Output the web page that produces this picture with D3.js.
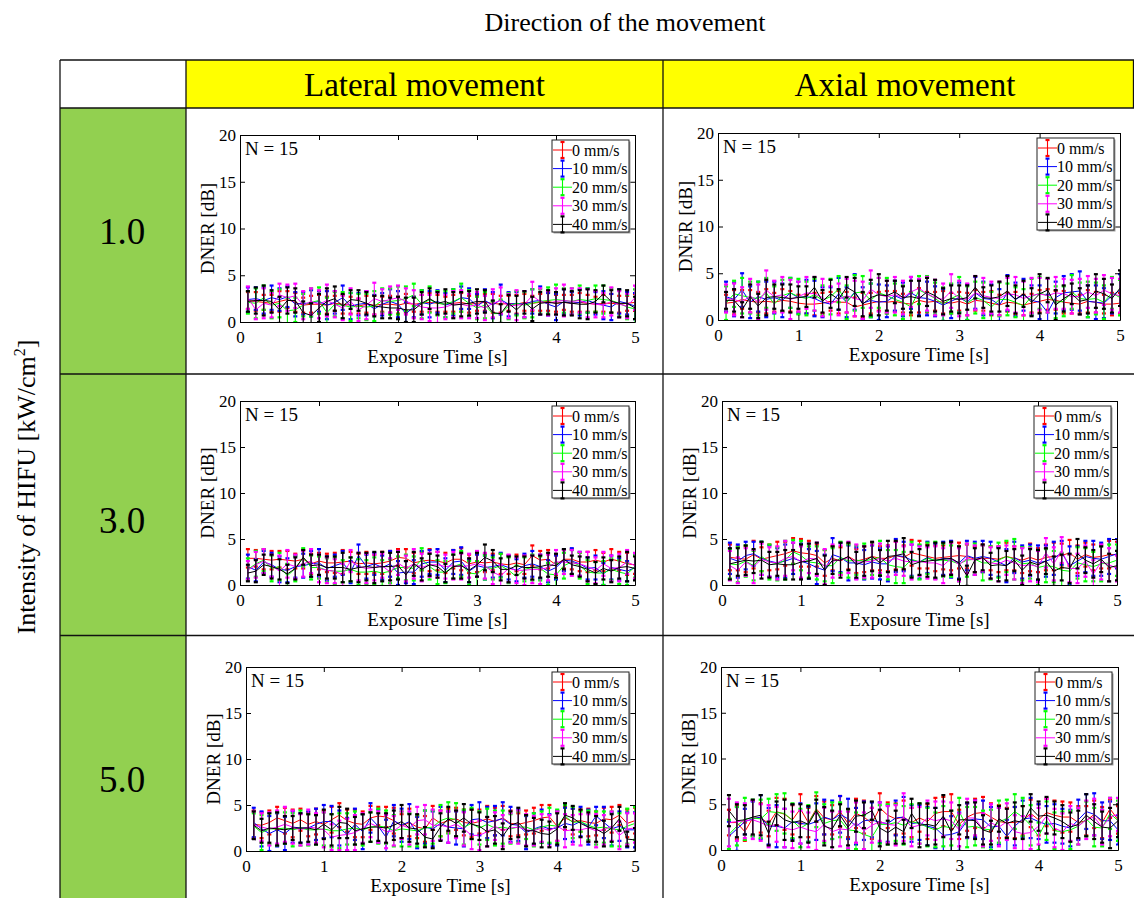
<!DOCTYPE html>
<html>
<head>
<meta charset="utf-8">
<script src="https://cdn.jsdelivr.net/npm/d3@7"></script>
<style>
  body { margin: 0; background: #fff; }
  svg { display: block; font-family: "Liberation Serif", "Times New Roman", serif; }
</style>
</head>
<body>
<svg id="fig" width="1134" height="898"></svg>
<script>
// ---- data (mean and half-width of error bar in dB) ----
const times = [0.1,0.2,0.3,0.4,0.5,0.6,0.7,0.8,0.9,1.0,
               1.1,1.2,1.3,1.4,1.5,1.6,1.7,1.8,1.9,2.0,
               2.1,2.2,2.3,2.4,2.5,2.6,2.7,2.8,2.9,3.0,
               3.1,3.2,3.3,3.4,3.5,3.6,3.7,3.8,3.9,4.0,
               4.1,4.2,4.3,4.4,4.5,4.6,4.7,4.8,4.9,5.0];
const speeds = ["0 mm/s", "10 mm/s", "20 mm/s", "30 mm/s", "40 mm/s"];
const colors = ["#ff0000", "#0000ff", "#00ff00", "#ff00ff", "#000000"];
const xTicks = [0, 1, 2, 3, 4, 5];
const yTicks = [0, 5, 10, 15, 20];
const directions = ["Lateral movement", "Axial movement"];
const intensities = ["1.0", "3.0", "5.0"];

// intensity 1.0, lateral
const lat1Mean = [
  [2.3,2.2,2.1,2.0,2.2,2.4,2.1,1.8,1.9,1.9, 1.8,2.0,1.9,1.8,1.7,1.9,1.8,1.9,1.9,1.8, 2.0,1.9,2.0,2.1,2.0,1.9,2.0,2.1,1.9,2.0, 2.1,2.0,1.9,2.0,1.9,2.1,2.0,2.1,2.2,2.0, 2.1,2.0,2.1,2.0,1.9,2.0,2.0,1.9,2.0,2.1],
  [2.4,2.5,2.3,2.6,2.4,2.7,1.9,2.0,2.0,2.2, 1.8,2.1,2.6,1.7,1.9,2.0,1.4,1.9,2.2,1.9, 0.9,1.6,2.1,1.9,2.2,1.8,2.1,2.6,2.5,1.7, 2.3,1.8,2.4,1.9,2.0,1.9,2.2,2.3,1.9,1.6, 2.2,2.0,2.1,2.3,2.0,1.8,1.6,2.2,2.0,1.7],
  [2.1,2.0,2.6,1.8,2.0,1.2,1.3,1.8,2.1,2.3, 1.0,1.9,1.8,1.6,1.7,1.6,1.7,2.3,2.2,2.3, 2.5,2.9,1.9,2.4,2.0,1.9,2.2,2.6,2.0,1.5, 1.8,0.9,0.9,1.7,2.0,1.8,2.0,2.2,2.3,2.4, 2.3,2.2,2.4,2.3,2.5,2.4,2.3,2.0,1.6,1.4],
  [2.6,1.3,2.0,1.8,2.9,2.6,2.8,1.8,2.2,1.9, 2.3,1.9,1.5,2.2,1.3,1.8,2.5,2.2,2.4,2.6, 2.2,1.9,1.6,1.5,1.5,1.6,1.9,1.9,1.7,1.8, 1.5,2.0,2.3,1.7,1.8,1.9,2.8,2.2,2.0,2.2, 2.3,2.2,2.3,2.0,1.9,1.8,2.2,1.9,1.7,2.6],
  [2.2,2.3,2.3,2.2,1.3,2.3,2.3,1.0,0.7,1.5, 2.2,2.5,1.7,2.4,2.3,2.0,1.7,1.6,1.5,1.5, 1.3,1.3,2.0,2.5,2.0,2.2,1.8,1.9,2.0,2.2, 2.2,1.0,0.9,2.0,1.3,2.1,1.4,2.0,2.1,2.0, 2.1,2.0,1.9,1.9,2.2,3.0,2.2,2.0,2.0,1.5]
];
const lat1Err = [
  [0.9,1.0,0.8,0.9,1.1,0.9,1.0,0.8,0.9,1.0, 0.9,0.8,1.0,0.9,0.8,0.9,1.0,0.8,0.9,0.9, 1.0,0.8,0.9,1.0,0.9,0.8,0.9,1.0,0.9,0.8, 0.9,1.0,0.9,0.8,1.0,0.9,0.8,0.9,1.0,0.9, 0.8,0.9,1.0,0.9,0.8,0.9,1.0,0.9,0.8,0.9],
  [1.3,1.2,1.4,1.3,1.2,1.1,1.3,1.2,1.4,1.1, 1.5,1.2,1.3,1.4,1.2,1.3,1.5,1.2,1.3,1.4, 1.2,1.1,1.3,1.4,1.2,1.3,1.4,1.2,1.1,1.3, 1.2,1.4,1.6,1.3,1.2,1.4,1.3,1.5,1.2,1.4, 1.3,1.2,1.4,1.3,1.2,1.5,1.4,1.3,1.2,1.4],
  [1.2,1.6,1.3,1.4,1.5,1.4,1.3,1.2,1.5,1.4, 1.6,1.3,1.4,1.5,1.3,1.4,1.6,1.3,1.4,1.5, 1.3,1.2,1.5,1.4,1.3,1.4,1.3,1.5,1.4,1.2, 1.4,1.3,1.5,1.4,1.3,1.4,1.5,1.3,1.4,1.6, 1.3,1.4,1.5,1.3,1.4,1.5,1.3,1.4,1.3,2.1],
  [1.2,1.0,1.6,1.3,1.2,1.4,1.3,1.5,1.4,1.5, 1.7,1.4,1.3,1.4,1.2,1.5,1.7,1.3,1.4,1.3, 1.4,1.5,1.3,1.4,1.6,1.3,1.4,1.5,1.3,1.4, 1.3,1.5,1.4,1.3,1.6,1.4,1.5,1.4,1.3,1.4, 1.7,1.4,1.3,1.5,1.4,1.3,1.5,1.4,1.3,1.3],
  [1.1,1.4,1.6,1.2,1.4,1.4,1.3,1.2,1.3,1.5, 1.4,1.3,1.3,1.0,1.1,1.2,1.1,1.2,1.1,1.2, 1.3,1.3,1.2,1.1,1.2,1.3,1.4,1.3,1.3,1.3, 1.2,1.3,1.0,0.9,1.5,1.2,1.3,1.2,1.3,1.2, 1.4,1.3,1.5,1.6,1.2,0.9,1.2,1.5,1.4,1.2]
];

// intensity 1.0, axial
const ax1Mean = [
  [1.8,1.9,2.2,2.0,1.9,2.0,1.9,2.1,2.0,1.8, 1.7,1.7,1.8,2.0,1.9,1.9,1.4,1.6,1.8,2.0, 1.9,2.0,1.8,1.7,2.1,1.9,2.0,1.9,1.8,2.0, 1.7,2.1,2.0,1.8,1.6,1.9,1.8,1.6,1.8,2.0, 2.2,2.1,1.9,1.8,1.7,2.0,1.9,1.7,1.7,1.8],
  [2.5,2.2,3.2,1.9,2.5,2.2,2.4,2.1,2.9,2.4, 2.5,2.3,1.9,1.7,2.8,1.9,3.0,1.8,2.1,1.9, 2.0,2.6,2.2,2.9,2.4,2.3,2.0,1.6,2.0,2.4, 1.9,2.9,2.3,2.2,1.6,2.9,2.2,2.7,2.1,1.9, 0.8,2.4,2.9,3.0,3.1,2.0,1.9,1.8,2.6,3.2],
  [1.8,2.8,2.6,2.4,2.3,2.9,1.7,2.6,2.9,2.5, 2.3,2.7,2.1,2.5,3.3,1.9,2.9,3.0,2.1,2.9, 2.6,2.2,1.9,1.4,3.2,2.8,2.3,1.7,2.3,2.7, 1.8,2.4,2.1,1.4,2.2,2.2,1.9,1.5,2.5,2.9, 2.6,1.9,2.0,3.0,2.3,2.2,2.3,1.9,2.9,2.4],
  [2.3,2.2,1.9,2.6,1.9,3.2,2.5,2.7,2.2,2.5, 2.9,2.8,2.4,1.7,2.2,2.6,2.3,2.1,3.3,2.7, 2.5,2.7,2.4,3.0,3.4,2.8,2.4,2.2,3.1,2.3, 2.2,2.9,2.6,2.4,2.3,2.8,2.7,2.3,2.6,2.8, 2.6,2.9,2.8,2.5,2.5,3.0,2.6,3.2,2.8,2.6],
  [2.1,2.1,1.1,2.5,1.5,2.4,2.5,2.4,2.3,2.4, 2.5,3.5,2.0,2.8,2.2,3.5,3.0,1.7,2.4,2.7, 2.6,3.0,2.4,2.5,2.3,3.0,2.6,2.0,2.3,2.2, 2.4,3.5,2.4,2.3,2.5,3.1,2.2,2.8,1.9,2.8, 3.2,1.6,2.3,2.8,2.0,2.2,3.1,2.8,2.3,3.4]
];
const ax1Err = [
  [0.9,1.3,1.0,1.2,1.1,1.3,1.0,1.2,1.1,0.9, 1.0,1.2,1.1,1.0,1.2,1.1,1.0,1.3,1.1,1.0, 1.2,1.1,1.0,1.2,1.3,1.1,1.0,1.2,1.1,1.0, 1.2,1.1,1.0,1.3,1.1,1.0,1.2,1.1,1.0,1.2, 1.1,1.0,1.2,1.1,1.0,1.2,1.1,1.0,1.2,1.1],
  [1.6,1.8,1.8,1.7,1.6,1.9,1.7,1.8,1.6,1.7, 1.8,1.9,1.6,1.8,1.7,1.6,1.9,1.7,1.8,1.9, 1.7,1.6,1.8,1.7,1.9,1.8,1.6,1.7,1.8,1.6, 1.9,1.7,1.8,1.6,1.7,1.9,1.8,1.7,1.6,1.8, 1.9,1.7,1.8,1.9,2.1,1.7,1.8,1.6,1.9,1.7],
  [1.8,1.4,1.9,1.7,1.8,1.6,1.9,1.7,1.6,1.9, 1.8,1.7,1.6,1.9,1.4,1.8,1.9,1.7,1.8,1.6, 1.9,1.7,1.8,1.6,1.5,1.9,1.7,1.8,1.6,1.9, 1.8,1.7,1.9,1.6,1.8,1.7,1.6,1.8,1.9,1.7, 1.8,1.7,1.6,1.8,1.7,1.9,1.7,1.8,1.7,1.9],
  [1.5,1.7,1.6,1.8,1.9,2.1,1.7,1.9,2.1,1.6, 1.7,1.8,2.0,1.9,1.7,1.8,1.9,2.0,2.0,1.8, 1.7,1.9,1.8,1.6,1.0,1.8,1.9,1.7,1.8,1.9, 1.7,1.8,1.9,1.7,1.8,1.7,1.9,1.8,1.9,1.7, 1.8,1.7,1.6,1.8,1.9,1.7,1.8,1.6,1.7,1.8],
  [0.9,1.2,0.8,1.3,1.3,1.9,1.3,1.4,1.5,1.2, 1.1,1.1,1.2,1.5,1.1,1.1,1.5,1.3,1.9,2.2, 1.6,1.2,1.2,1.7,1.9,1.5,1.7,1.4,1.4,1.5, 1.3,1.2,1.1,1.4,1.6,1.6,1.5,1.4,1.5,2.1, 1.3,1.6,1.4,1.1,1.4,1.5,1.8,1.6,1.5,1.9]
];

// intensity 3.0, lateral
const lat3Mean = [
  [2.9,2.9,2.8,2.7,2.8,2.7,2.6,2.8,2.3,2.6, 2.4,2.4,2.5,2.6,2.3,2.4,2.3,2.4,2.6,3.0, 2.9,2.4,2.6,2.7,2.6,2.4,2.8,2.8,2.3,2.5, 2.4,2.5,2.3,2.2,2.4,2.2,3.2,2.7,2.8,2.2, 2.8,2.8,2.5,2.5,2.7,2.5,2.8,2.6,2.3,2.2],
  [2.0,1.6,2.5,2.2,1.7,1.6,2.0,2.1,2.3,2.4, 1.8,2.1,2.4,1.4,3.2,2.0,2.3,1.9,2.3,1.3, 1.4,1.4,2.3,2.5,2.5,1.6,2.5,2.6,1.5,2.1, 1.9,2.0,2.2,1.9,1.6,2.1,2.3,2.0,1.5,1.9, 2.7,2.6,2.3,1.8,1.9,1.2,1.9,1.7,1.5,1.9],
  [1.7,2.3,2.7,1.8,2.0,1.0,1.8,3.0,1.9,1.9, 1.6,1.5,1.5,1.7,1.4,1.4,1.5,1.3,1.5,1.9, 1.9,1.8,2.8,2.0,1.4,1.4,2.0,2.3,1.3,1.2, 1.9,1.8,2.1,1.6,0.9,1.7,1.9,1.8,1.2,1.1, 2.1,2.5,2.1,1.4,1.3,1.3,1.7,1.4,1.2,2.0],
  [1.6,2.2,2.6,2.1,1.5,2.3,2.0,2.3,2.6,1.8, 1.6,1.5,1.1,2.6,2.0,1.8,1.9,2.1,1.4,2.4, 1.8,2.3,1.9,2.2,2.2,2.0,2.1,2.0,2.1,2.3, 2.1,1.4,1.0,1.8,1.6,1.6,1.7,1.7,1.9,2.5, 2.5,2.4,2.3,2.0,1.6,2.3,1.8,1.9,2.5,2.1],
  [1.3,1.5,2.2,2.0,1.7,1.2,1.8,3.0,2.1,2.2, 1.9,1.9,1.9,1.7,1.9,2.0,1.9,2.0,2.0,2.1, 1.1,2.3,1.7,2.2,2.0,1.3,2.0,2.1,1.6,2.2, 3.0,2.6,1.7,1.7,2.1,1.9,1.9,2.0,2.2,2.1, 2.8,2.2,2.0,1.7,1.3,1.8,1.5,1.9,2.0,1.8]
];
const lat3Err = [
  [1.0,0.9,1.1,1.0,0.9,1.0,0.8,1.0,1.1,0.9, 1.0,1.1,1.3,1.0,1.1,1.2,1.0,1.2,1.1,0.9, 1.0,1.1,1.0,1.2,1.0,1.1,1.0,1.2,1.0,1.1, 1.0,0.9,1.1,1.0,0.9,1.0,1.1,1.0,1.0,1.1, 1.0,1.1,1.0,1.1,1.1,1.0,1.1,1.0,1.2,1.0],
  [1.3,1.2,1.2,1.3,1.4,1.3,1.2,1.3,1.4,1.5, 1.3,1.2,1.3,1.2,1.2,1.3,1.2,1.3,1.4,1.3, 1.2,1.3,1.4,1.3,1.4,1.3,1.3,1.5,1.2,1.2, 1.3,1.2,1.3,1.3,1.2,1.3,1.4,1.3,1.2,1.3, 1.2,1.4,1.3,1.2,1.3,1.2,1.3,1.2,1.1,1.3],
  [1.2,1.4,1.2,1.4,1.5,1.3,1.4,1.0,1.3,1.2, 1.3,1.4,1.2,1.3,1.4,1.3,1.5,1.4,1.3,1.2, 1.4,1.3,1.2,1.4,1.3,1.2,1.3,1.4,1.3,1.4, 1.3,1.2,1.3,1.4,1.2,1.3,1.4,1.3,1.2,1.3, 1.4,1.3,1.4,1.3,1.2,1.3,1.2,1.3,1.2,1.2],
  [1.0,1.4,1.3,1.2,1.7,1.5,1.3,1.4,1.3,1.5, 1.4,1.3,1.2,1.2,1.5,1.6,1.4,1.3,1.5,1.3, 1.4,1.6,1.5,1.3,1.4,1.3,1.5,1.4,1.3,1.4, 1.4,1.3,1.2,1.5,1.4,1.6,1.5,1.6,1.4,1.3, 1.3,1.4,1.3,1.6,1.4,1.3,1.4,1.5,1.3,1.4],
  [0.9,1.2,1.1,1.3,1.1,1.0,1.2,0.8,1.2,1.1, 1.2,1.2,1.6,1.3,1.6,1.5,1.7,1.6,1.5,1.5, 1.5,1.3,1.2,1.2,1.2,1.0,1.3,1.4,1.3,1.3, 1.4,1.2,1.2,1.4,1.0,1.2,1.3,1.2,1.3,1.3, 1.1,1.0,1.1,1.3,1.2,1.2,1.2,1.2,1.6,1.3]
];

// intensity 3.0, axial
const ax3Mean = [
  [3.0,2.9,2.8,3.3,2.8,3.0,3.2,3.4,3.7,3.5, 3.4,3.2,2.4,2.9,2.6,3.1,2.6,2.8,3.1,2.9, 2.9,3.2,3.0,3.5,3.3,3.1,2.9,3.0,3.1,3.2, 3.1,2.8,2.9,2.9,2.8,3.1,2.9,2.7,3.0,2.7, 3.0,3.1,3.2,3.5,2.8,3.3,3.0,3.1,3.3,3.3],
  [2.9,2.6,3.2,3.4,2.9,2.6,2.4,2.6,2.9,2.6, 2.3,1.9,1.6,3.3,3.0,2.4,2.4,2.2,2.5,2.3, 2.3,3.2,3.1,2.7,2.5,3.0,2.6,2.9,2.8,2.4, 3.2,2.9,3.1,2.9,2.5,2.1,3.0,2.5,2.7,2.4, 2.6,2.9,3.5,2.1,2.6,3.1,2.9,2.8,3.1,3.4],
  [2.3,2.2,2.6,2.1,3.1,2.5,2.3,2.7,3.6,3.2, 2.5,2.4,2.1,2.1,3.0,2.6,2.7,2.6,2.8,3.0, 2.2,2.0,1.9,2.8,2.5,2.9,2.7,2.7,2.6,2.3, 2.7,2.8,2.4,2.4,2.7,3.1,2.8,2.3,2.4,1.9, 2.1,2.0,1.6,1.5,2.4,2.2,2.0,2.3,2.4,2.7],
  [2.1,1.6,2.5,2.0,2.8,2.5,2.4,2.9,3.1,2.5, 2.9,2.8,2.0,2.6,2.7,3.0,2.5,2.5,2.6,2.9, 2.6,2.9,2.6,2.5,2.6,2.4,2.4,2.1,2.9,2.2, 2.9,2.7,2.9,2.4,2.3,2.7,2.4,2.1,2.2,2.0, 3.5,2.3,3.8,1.8,1.8,2.6,1.2,2.5,2.2,1.8],
  [2.3,2.5,2.7,2.6,2.7,2.2,2.3,2.2,2.2,2.5, 2.6,2.9,1.6,2.7,2.7,3.1,2.2,2.6,3.1,2.4, 3.1,3.2,3.4,2.2,2.5,2.6,2.7,2.8,2.9,2.4, 1.0,2.7,3.0,2.1,2.2,2.1,2.7,1.6,2.5,2.2, 2.6,1.5,1.9,1.8,3.4,2.7,2.3,2.8,1.9,2.1]
];
const ax3Err = [
  [1.4,1.3,1.4,1.5,1.3,1.4,1.5,1.3,1.4,1.5, 1.4,1.2,1.4,1.3,1.5,1.4,1.3,1.4,1.5,1.3, 1.4,1.5,1.3,1.4,1.5,1.3,1.4,1.3,1.5,1.4, 1.3,1.4,1.5,1.3,1.4,1.5,1.3,1.4,1.5,1.3, 1.4,1.5,1.3,1.4,1.5,1.3,1.4,1.3,1.5,1.4],
  [1.7,1.8,1.5,1.3,1.8,1.7,1.6,1.8,1.7,1.9, 1.6,1.8,1.7,1.8,1.6,1.9,1.7,1.6,1.8,1.7, 1.9,1.8,1.6,1.7,1.8,1.7,1.9,1.8,2.0,1.7, 1.6,1.8,1.7,1.8,1.6,1.8,1.7,1.8,1.7,1.9, 1.7,1.8,1.3,2.1,1.6,1.7,1.9,1.8,1.9,1.6],
  [1.6,1.9,1.7,1.6,1.6,1.9,1.8,2.1,1.3,1.6, 1.7,1.8,1.7,1.9,1.7,1.8,1.6,1.9,1.7,1.8, 1.6,1.8,1.7,1.9,1.9,1.7,2.0,1.8,1.7,1.9, 1.8,1.7,1.9,1.8,1.9,1.7,2.2,1.8,1.7,1.9, 1.8,1.7,1.9,1.8,1.7,1.8,1.6,1.9,2.0,1.7],
  [1.6,1.4,1.5,1.8,1.7,1.6,1.8,1.9,1.5,1.7, 1.6,1.8,1.9,1.8,1.6,1.7,1.9,1.7,1.8,1.6, 1.7,1.8,1.6,1.9,1.6,1.7,1.8,1.9,1.7,1.8, 1.6,1.6,1.4,1.7,1.9,1.6,1.8,1.9,1.8,1.7, 1.6,1.8,1.4,1.5,1.6,1.7,1.5,1.9,1.8,1.4],
  [1.7,1.5,1.6,1.3,2.0,1.4,1.3,1.6,1.6,1.9, 1.9,1.7,1.6,1.5,1.9,1.5,1.4,1.6,1.6,1.4, 1.7,1.6,1.7,1.4,1.4,1.7,1.9,1.8,1.8,1.8, 1.1,1.3,1.4,1.4,1.8,1.6,1.2,1.6,1.4,1.6, 1.4,1.6,1.4,1.6,1.6,1.4,1.5,1.4,1.5,1.6]
];

// intensity 5.0, lateral
const lat5Mean = [
  [2.9,2.8,3.1,3.6,3.3,3.0,3.4,2.9,3.2,2.9, 3.4,3.9,3.3,3.0,2.9,3.6,3.8,3.7,3.3,2.7, 3.1,2.6,2.4,3.6,3.0,3.3,3.5,3.1,3.0,3.2, 3.5,3.2,3.6,3.0,2.9,3.1,3.3,3.6,3.7,2.7, 3.6,3.2,3.3,3.1,3.0,3.5,3.4,3.9,3.0,3.3],
  [3.1,2.4,1.9,2.3,1.9,2.6,2.5,2.5,2.9,3.2, 3.2,2.5,1.8,2.9,2.1,3.6,2.7,1.5,3.3,2.8, 3.2,2.0,2.6,2.4,3.0,2.6,2.5,2.4,3.4,3.5, 3.1,3.3,3.5,2.9,2.8,2.0,2.4,2.7,2.4,2.5, 3.0,2.8,3.2,2.6,3.8,3.1,2.4,2.7,2.3,2.3],
  [2.7,2.0,2.4,2.4,2.5,2.3,2.5,2.3,2.3,2.4, 2.2,2.2,2.4,2.5,2.3,2.6,2.7,2.6,2.2,2.4, 2.3,2.2,2.5,2.6,3.3,3.6,3.4,2.6,3.0,2.5, 2.9,2.5,2.6,2.4,2.6,2.6,2.3,2.6,2.8,2.7, 3.8,3.1,3.2,2.8,2.5,2.6,2.4,2.3,2.7,3.0],
  [2.8,2.6,2.4,2.6,2.9,2.6,2.3,2.6,2.5,2.3, 1.5,1.7,1.8,2.0,2.5,3.0,2.6,2.1,2.2,2.8, 2.5,3.3,3.4,2.8,2.8,2.6,2.9,2.4,1.7,1.7, 2.1,2.7,2.2,2.5,2.6,2.3,2.2,2.5,2.2,2.7, 2.2,2.3,2.3,2.5,2.2,2.3,2.7,1.7,2.4,2.5],
  [2.8,2.2,2.5,2.4,2.3,2.5,2.5,2.5,2.3,2.9, 2.3,3.1,3.0,2.2,2.4,2.6,2.6,2.5,2.8,3.2, 2.5,2.4,1.5,1.3,2.6,3.5,3.0,3.6,2.9,2.7, 2.1,2.3,1.6,2.8,3.1,2.2,2.2,1.9,1.8,2.4, 3.9,3.6,3.0,2.6,2.4,1.9,2.5,3.5,1.3,1.2]
];
const lat5Err = [
  [1.5,1.4,1.3,1.2,1.4,1.5,1.2,1.3,1.4,1.5, 1.4,1.3,1.2,1.5,1.4,1.3,1.0,1.1,1.4,1.3, 1.5,1.2,1.4,1.3,1.4,1.3,1.2,1.4,1.5,1.3, 1.4,1.5,1.3,1.4,1.2,1.3,1.4,1.4,1.3,1.6, 1.3,1.4,1.2,1.5,1.3,1.2,1.4,1.1,1.5,1.4],
  [1.6,1.9,1.9,1.8,1.8,1.7,1.6,1.8,1.7,1.8, 1.7,1.9,1.8,1.7,1.9,1.6,1.8,1.9,1.7,1.8, 1.9,1.7,1.8,1.9,1.8,1.7,1.8,1.9,1.6,1.8, 1.7,1.6,1.8,1.9,1.7,1.8,1.7,1.8,1.6,1.9, 1.7,1.8,1.6,1.9,1.0,1.7,1.8,1.6,1.9,1.9],
  [1.4,1.9,1.7,1.8,1.7,1.8,1.9,1.7,1.6,1.8, 1.8,1.9,1.7,1.8,1.7,1.6,1.9,1.8,1.7,1.9, 1.8,1.7,1.9,1.8,1.7,1.7,1.8,1.9,1.7,1.8, 1.7,1.9,1.8,1.6,1.7,1.3,1.8,1.7,1.9,1.8, 1.2,1.7,1.1,1.6,1.8,1.7,1.9,1.8,1.9,1.8],
  [1.5,1.5,1.8,1.8,1.9,1.8,1.7,1.9,1.6,1.9, 1.4,1.6,1.7,1.9,1.6,1.5,1.7,1.8,1.6,1.5, 1.8,1.5,1.6,1.7,1.6,1.7,1.5,1.8,1.5,1.6, 1.6,1.5,1.7,1.6,1.8,1.7,1.6,1.5,1.7,1.6, 1.8,1.6,1.7,1.5,1.8,1.6,1.6,1.5,1.7,1.6],
  [1.5,1.3,1.6,1.8,1.5,1.3,1.6,1.5,1.6,1.6, 1.7,1.7,1.6,1.5,1.6,1.6,1.5,1.6,1.6,1.8, 1.5,1.6,1.1,1.0,1.5,1.3,1.4,1.5,1.6,1.5, 1.6,1.5,1.4,1.5,1.6,1.7,1.4,1.5,1.4,1.7, 1.3,1.3,1.5,1.6,1.4,1.4,1.5,1.3,0.8,1.3]
];

// intensity 5.0, axial
const ax5Mean = [
  [3.0,3.0,2.0,3.5,3.5,2.9,4.2,3.9,3.3,4.5, 3.0,4.5,3.5,3.3,4.2,2.9,4.0,3.6,2.9,4.6, 3.8,3.4,3.6,3.0,3.5,3.1,4.0,4.2,4.2,2.8, 3.6,4.0,4.1,3.6,3.1,3.0,3.0,3.2,4.0,3.3, 4.1,3.8,3.6,3.6,3.0,3.2,3.9,3.0,4.5,3.3],
  [1.5,2.3,3.1,3.4,3.6,2.6,2.6,2.4,3.1,2.9, 2.8,3.1,3.6,3.3,3.9,3.4,2.6,3.2,3.3,3.0, 2.9,3.5,3.6,2.9,3.0,2.6,2.4,1.6,1.7,2.0, 3.2,3.4,3.3,2.5,2.6,1.5,2.6,3.4,3.5,3.1, 2.8,2.9,2.6,2.4,3.3,4.2,3.9,3.2,3.2,2.2],
  [1.7,2.6,3.4,3.5,3.4,4.2,4.1,4.0,3.2,2.4, 2.9,4.4,2.9,3.2,3.3,2.2,2.1,1.7,1.4,2.8, 2.8,3.0,2.7,3.1,2.9,2.5,2.2,2.6,2.4,4.2, 2.5,2.6,2.3,2.2,3.1,3.4,4.2,3.6,2.7,1.5, 3.2,2.1,2.0,2.2,2.6,3.4,2.5,2.4,4.0,3.2],
  [3.0,3.1,3.2,3.3,3.0,2.6,2.8,2.4,2.2,2.5, 2.2,2.0,2.8,2.0,2.3,2.2,3.0,2.1,2.7,3.1, 2.8,2.7,3.6,2.5,2.7,3.5,3.2,3.4,3.2,2.2, 3.5,3.5,2.2,3.0,2.5,3.1,2.0,1.8,1.9,2.6, 3.7,2.4,2.0,2.9,2.6,3.3,3.6,2.5,3.6,3.9],
  [4.3,3.2,3.3,3.6,3.8,1.8,4.0,3.3,3.0,3.2, 2.8,4.3,2.6,2.3,3.8,2.5,3.7,3.8,4.3,2.4, 1.9,2.5,2.0,4.0,2.7,2.8,2.6,3.7,2.0,3.3, 3.3,3.2,2.2,1.9,3.4,2.9,3.2,3.0,4.6,3.7, 3.8,3.5,3.1,2.5,2.8,3.8,3.1,2.5,2.4,3.2]
];
const ax5Err = [
  [1.4,1.8,1.0,1.9,1.6,1.4,1.5,1.7,1.6,1.6, 1.6,1.4,1.8,1.6,1.7,1.5,1.6,1.8,1.7,1.6, 1.4,1.7,1.8,1.6,1.5,1.9,1.7,1.6,1.9,1.6, 1.5,1.6,1.7,1.5,1.8,1.6,1.7,1.6,1.5,1.7, 1.5,1.6,1.7,1.6,1.8,1.6,1.5,1.7,1.0,1.5],
  [1.6,2.4,1.4,1.9,2.4,2.0,2.3,2.1,1.9,2.2, 1.9,2.0,1.9,2.1,2.0,2.2,2.0,2.1,1.9,2.2, 2.0,1.9,2.2,2.0,1.9,2.1,2.2,1.8,2.0,2.1, 1.9,2.0,2.1,2.2,2.0,1.8,2.1,2.0,2.2,1.9, 2.0,2.1,1.9,2.0,2.2,1.9,2.3,2.0,2.1,1.6],
  [1.6,2.1,2.3,2.0,2.1,1.4,2.0,2.2,1.9,2.1, 2.0,1.9,2.1,2.0,1.9,2.2,2.0,2.1,1.9,2.1, 2.2,2.0,2.1,1.9,2.2,2.1,1.9,2.2,1.9,1.5, 2.2,2.1,2.0,2.2,2.3,2.1,1.9,2.1,2.2,1.5, 2.1,2.0,2.2,2.1,2.0,1.9,2.1,2.0,1.7,2.2],
  [2.6,2.1,1.9,2.1,2.0,2.3,1.9,2.1,2.0,1.8, 1.9,2.0,1.8,2.2,1.9,2.0,2.2,2.0,1.9,2.1, 2.0,2.2,2.6,2.1,2.0,1.9,2.1,1.9,2.0,1.8, 2.1,1.9,1.8,2.0,2.1,2.0,1.8,1.9,1.8,2.0, 1.9,2.1,2.0,1.9,2.0,2.1,2.0,1.9,2.1,1.8],
  [1.7,1.8,1.6,1.9,2.2,1.3,1.3,2.2,2.0,1.8, 2.0,1.2,2.1,2.0,1.2,2.0,1.7,1.4,1.0,2.0, 1.3,1.8,1.3,1.6,2.4,2.3,2.0,2.3,2.3,1.6, 1.9,2.0,1.6,1.3,1.4,1.6,2.0,1.8,1.5,1.6, 2.0,1.8,1.8,1.6,1.5,2.3,1.9,1.7,2.2,1.8]
];

// ---- layout ----
const svg = d3.select("#fig");
const W = 1134, H = 898;
const tableLeft = 60, colSplit = 186, midSplit = 663, tableRight = 1133.5;
const headTop = 60, headBottom = 108;
const rowLines = [374, 635.5];

const panels = [
  { mean: lat1Mean, err: lat1Err, x0: 240, x1: 635,  y0: 135, y1: 322 },
  { mean: ax1Mean,  err: ax1Err,  x0: 718, x1: 1120, y0: 133, y1: 320 },
  { mean: lat3Mean, err: lat3Err, x0: 240, x1: 635,  y0: 401, y1: 585 },
  { mean: ax3Mean,  err: ax3Err,  x0: 722, x1: 1117, y0: 401, y1: 585 },
  { mean: lat5Mean, err: lat5Err, x0: 246, x1: 635,  y0: 667, y1: 851 },
  { mean: ax5Mean,  err: ax5Err,  x0: 721, x1: 1118, y0: 667, y1: 850 }
];

// table background
svg.append("rect").attr("x", colSplit).attr("y", headTop)
  .attr("width", W - colSplit).attr("height", headBottom - headTop).attr("fill", "#ffff00");
svg.append("rect").attr("x", tableLeft).attr("y", headBottom)
  .attr("width", colSplit - tableLeft).attr("height", H - headBottom).attr("fill", "#92d050");

// table lines
const grid = svg.append("g").attr("stroke", "#111").attr("stroke-width", 1.3);
[headTop, headBottom, ...rowLines].forEach(yy => {
  grid.append("line").attr("x1", tableLeft).attr("x2", W).attr("y1", yy).attr("y2", yy);
});
[tableLeft, colSplit, midSplit].forEach(xx => {
  grid.append("line").attr("x1", xx).attr("x2", xx).attr("y1", headTop).attr("y2", H);
});
grid.append("line").attr("x1", tableRight).attr("x2", tableRight).attr("y1", headTop).attr("y2", headBottom);

// titles
svg.append("text").attr("x", 625).attr("y", 31).attr("text-anchor", "middle")
  .attr("font-size", 26).text("Direction of the movement");

const colCenters = [424.5, 905];
directions.forEach((d, i) => {
  svg.append("text").attr("x", colCenters[i]).attr("y", 96).attr("text-anchor", "middle")
    .attr("font-size", 33).text(d);
});

const rowCenters = [231, 520, 779];
intensities.forEach((d, i) => {
  svg.append("text").attr("x", 122).attr("y", rowCenters[i]).attr("dy", "0.35em")
    .attr("text-anchor", "middle").attr("font-size", 37).text(d);
});

const yLab = svg.append("text").attr("transform", "translate(35,487) rotate(-90)")
  .attr("text-anchor", "middle").attr("font-size", 26);
yLab.append("tspan").text("Intensity of HIFU [kW/cm");
yLab.append("tspan").attr("font-size", 16).attr("dy", -10).text("2");
yLab.append("tspan").attr("dy", 10).text("]");

// ---- panels ----
panels.forEach((p, i) => {
  const x = d3.scaleLinear().domain([0, 5]).range([p.x0, p.x1]);
  const y = d3.scaleLinear().domain([0, 20]).range([p.y1, p.y0]);
  const g = svg.append("g");

  g.append("rect").attr("x", p.x0).attr("y", p.y0)
    .attr("width", p.x1 - p.x0).attr("height", p.y1 - p.y0).attr("fill", "#fff");

  svg.append("clipPath").attr("id", "clip" + i).append("rect")
    .attr("x", p.x0).attr("y", p.y0).attr("width", p.x1 - p.x0).attr("height", p.y1 - p.y0);
  const plot = g.append("g").attr("clip-path", `url(#clip${i})`);

  const line = d3.line().x(d => x(d.t)).y(d => y(d.v));
  speeds.forEach((s, k) => {
    const pts = times.map((t, j) => ({ t, v: p.mean[k][j], e: p.err[k][j] }));
    const sg = plot.append("g").attr("stroke", colors[k]).attr("fill", "none");
    sg.append("path").datum(pts).attr("d", line).attr("stroke-width", 1);
    sg.selectAll("line.bar").data(pts).join("line").attr("class", "bar")
      .attr("x1", d => x(d.t)).attr("x2", d => x(d.t))
      .attr("y1", d => y(d.v - d.e)).attr("y2", d => y(d.v + d.e))
      .attr("stroke-width", 1.1);
    sg.selectAll("line.capLo").data(pts).join("line").attr("class", "capLo")
      .attr("x1", d => x(d.t) - 2).attr("x2", d => x(d.t) + 2)
      .attr("y1", d => y(d.v - d.e)).attr("y2", d => y(d.v - d.e))
      .attr("stroke-width", 2.2);
    sg.selectAll("line.capHi").data(pts).join("line").attr("class", "capHi")
      .attr("x1", d => x(d.t) - 2).attr("x2", d => x(d.t) + 2)
      .attr("y1", d => y(d.v + d.e)).attr("y2", d => y(d.v + d.e))
      .attr("stroke-width", 2.2);
  });

  // axes, ticks inward on all four sides
  const fmt = d3.format("d");
  const axB = g.append("g").attr("transform", `translate(0,${p.y1})`)
    .call(d3.axisBottom(x).tickValues(xTicks).tickFormat(fmt).tickSize(-5).tickSizeOuter(0).tickPadding(9));
  const axT = g.append("g").attr("transform", `translate(0,${p.y0})`)
    .call(d3.axisTop(x).tickValues(xTicks).tickSize(-5).tickSizeOuter(0).tickFormat(""));
  const axL = g.append("g").attr("transform", `translate(${p.x0},0)`)
    .call(d3.axisLeft(y).tickValues(yTicks).tickFormat(fmt).tickSize(-5).tickSizeOuter(0).tickPadding(4));
  const axR = g.append("g").attr("transform", `translate(${p.x1},0)`)
    .call(d3.axisRight(y).tickValues(yTicks).tickSize(-5).tickSizeOuter(0).tickFormat(""));
  [axB, axT, axL, axR].forEach(a => {
    a.attr("font-family", null).attr("font-size", 17);
    a.selectAll("path, line").attr("stroke", "#000").attr("stroke-width", 1);
    a.selectAll("text").attr("fill", "#000");
  });

  g.append("text").attr("transform", `translate(${p.x0 - 33},${(p.y0 + p.y1) / 2}) rotate(-90)`)
    .attr("text-anchor", "middle").attr("dy", "0.35em").attr("font-size", 19).text("DNER [dB]");
  g.append("text").attr("x", (p.x0 + p.x1) / 2).attr("y", p.y1 + 41)
    .attr("text-anchor", "middle").attr("font-size", 19).text("Exposure Time [s]");
  g.append("text").attr("x", p.x0 + 5).attr("y", p.y0 + 20)
    .attr("font-size", 19).text("N = 15");

  // legend
  const lw = 77, lh = 92, bx = p.x1 - 6 - lw, by = p.y0 + 5;
  const leg = g.append("g");
  leg.append("rect").attr("x", bx + 1.5).attr("y", by + 1.5).attr("width", lw).attr("height", lh)
    .attr("fill", "#a0a0a0");
  leg.append("rect").attr("x", bx).attr("y", by).attr("width", lw).attr("height", lh)
    .attr("fill", "#fff").attr("stroke", "#222").attr("stroke-width", 1);
  speeds.forEach((s, k) => {
    const cy = by + 10 + k * 18.6;
    const eg = leg.append("g").attr("stroke", colors[k]);
    eg.append("line").attr("x1", bx + 1).attr("x2", bx + 20).attr("y1", cy).attr("y2", cy).attr("stroke-width", 1);
    eg.append("line").attr("x1", bx + 10.5).attr("x2", bx + 10.5).attr("y1", cy - 8).attr("y2", cy + 8).attr("stroke-width", 1.1);
    eg.append("line").attr("x1", bx + 8.5).attr("x2", bx + 12.5).attr("y1", cy - 8).attr("y2", cy - 8).attr("stroke-width", 2.2);
    eg.append("line").attr("x1", bx + 8.5).attr("x2", bx + 12.5).attr("y1", cy + 8).attr("y2", cy + 8).attr("stroke-width", 2.2);
    leg.append("text").attr("x", bx + 20).attr("y", cy).attr("dy", "0.35em")
      .attr("font-size", 16).text(s);
  });
});
</script>
</body>
</html>
